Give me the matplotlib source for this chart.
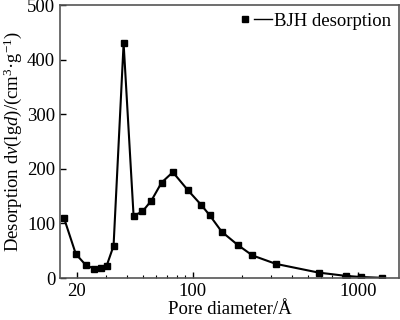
import matplotlib
matplotlib.use("Agg")
import matplotlib.pyplot as plt
from matplotlib.lines import Line2D
from matplotlib.legend_handler import HandlerLine2D
from matplotlib.ticker import LogLocator, FixedLocator, FixedFormatter

plt.rcParams['font.family'] = 'Liberation Serif'
plt.rcParams['mathtext.fontset'] = 'custom'
plt.rcParams['mathtext.rm'] = 'Liberation Serif'
plt.rcParams['mathtext.it'] = 'Liberation Serif:italic'

# BJH desorption data
pore_diameter = [16.7, 19.7, 22.6, 25.4, 27.9, 30.2, 33.3, 38.3, 44, 49.8, 56.4, 65, 76,
                 93.7, 112.8, 127, 150, 187, 230, 319, 579, 847, 1038, 1400]
desorption = [110, 44, 24, 17, 19, 22, 59, 430, 114, 122, 142, 175, 194,
              161, 134, 115, 85, 61, 41.5, 26, 10, 4, 2, 0.5]

x_ticks = [20, 100, 1000]
x_labels = ['20', '100', '1000']
y_ticks = [0, 100, 200, 300, 400, 500]


# legend key drawn as "marker then short line"
class MarkerThenLine(HandlerLine2D):
    def create_artists(self, legend, orig_handle, xdescent, ydescent,
                       width, height, fontsize, trans):
        y = height / 2 - ydescent
        x0 = -xdescent
        line = Line2D([x0 + width * 0.42, x0 + width], [y, y], color='black', lw=1.0)
        mk = Line2D([x0 + width * 0.1], [y], marker='s', ms=4, color='black', ls='none')
        line.set_transform(trans)
        mk.set_transform(trans)
        return [line, mk]


fig = plt.figure(figsize=(4, 3.2), dpi=100)
ax = fig.add_axes([0.15, 0.131, 0.8475, 0.853])

ln, = ax.plot(pore_diameter, desorption, color='black', lw=1.5, marker='s', ms=5,
              label='BJH desorption')

ax.set_xscale('log')
ax.set_xlim(15.8, 1770)
ax.set_ylim(0, 500)
ax.xaxis.set_major_locator(FixedLocator(x_ticks))
ax.xaxis.set_major_formatter(FixedFormatter(x_labels))
ax.xaxis.set_minor_locator(LogLocator(base=10, subs=range(2, 10)))
ax.set_yticks(y_ticks)

ax.tick_params(which='both', direction='in', labelsize=13.5, colors='black')
ax.tick_params(which='major', length=4, width=1)
ax.tick_params(which='minor', length=2.5, width=0.8)
for s in ax.spines.values():
    s.set_color('#555555')
    s.set_linewidth(1.2)

ax.set_xlabel('Pore diameter/Å', fontsize=13.5, labelpad=1)
ax.set_ylabel(r'Desorption d$v$(lg$d$)/(cm$^3$·g$^{-1}$)', fontsize=13.5, labelpad=2)

ax.legend(handles=[ln], loc='upper right', frameon=False, fontsize=13.5,
          handlelength=1.6, handletextpad=0.15, borderaxespad=0.0,
          handler_map={Line2D: MarkerThenLine()})

fig.savefig('out.png', dpi=100)
